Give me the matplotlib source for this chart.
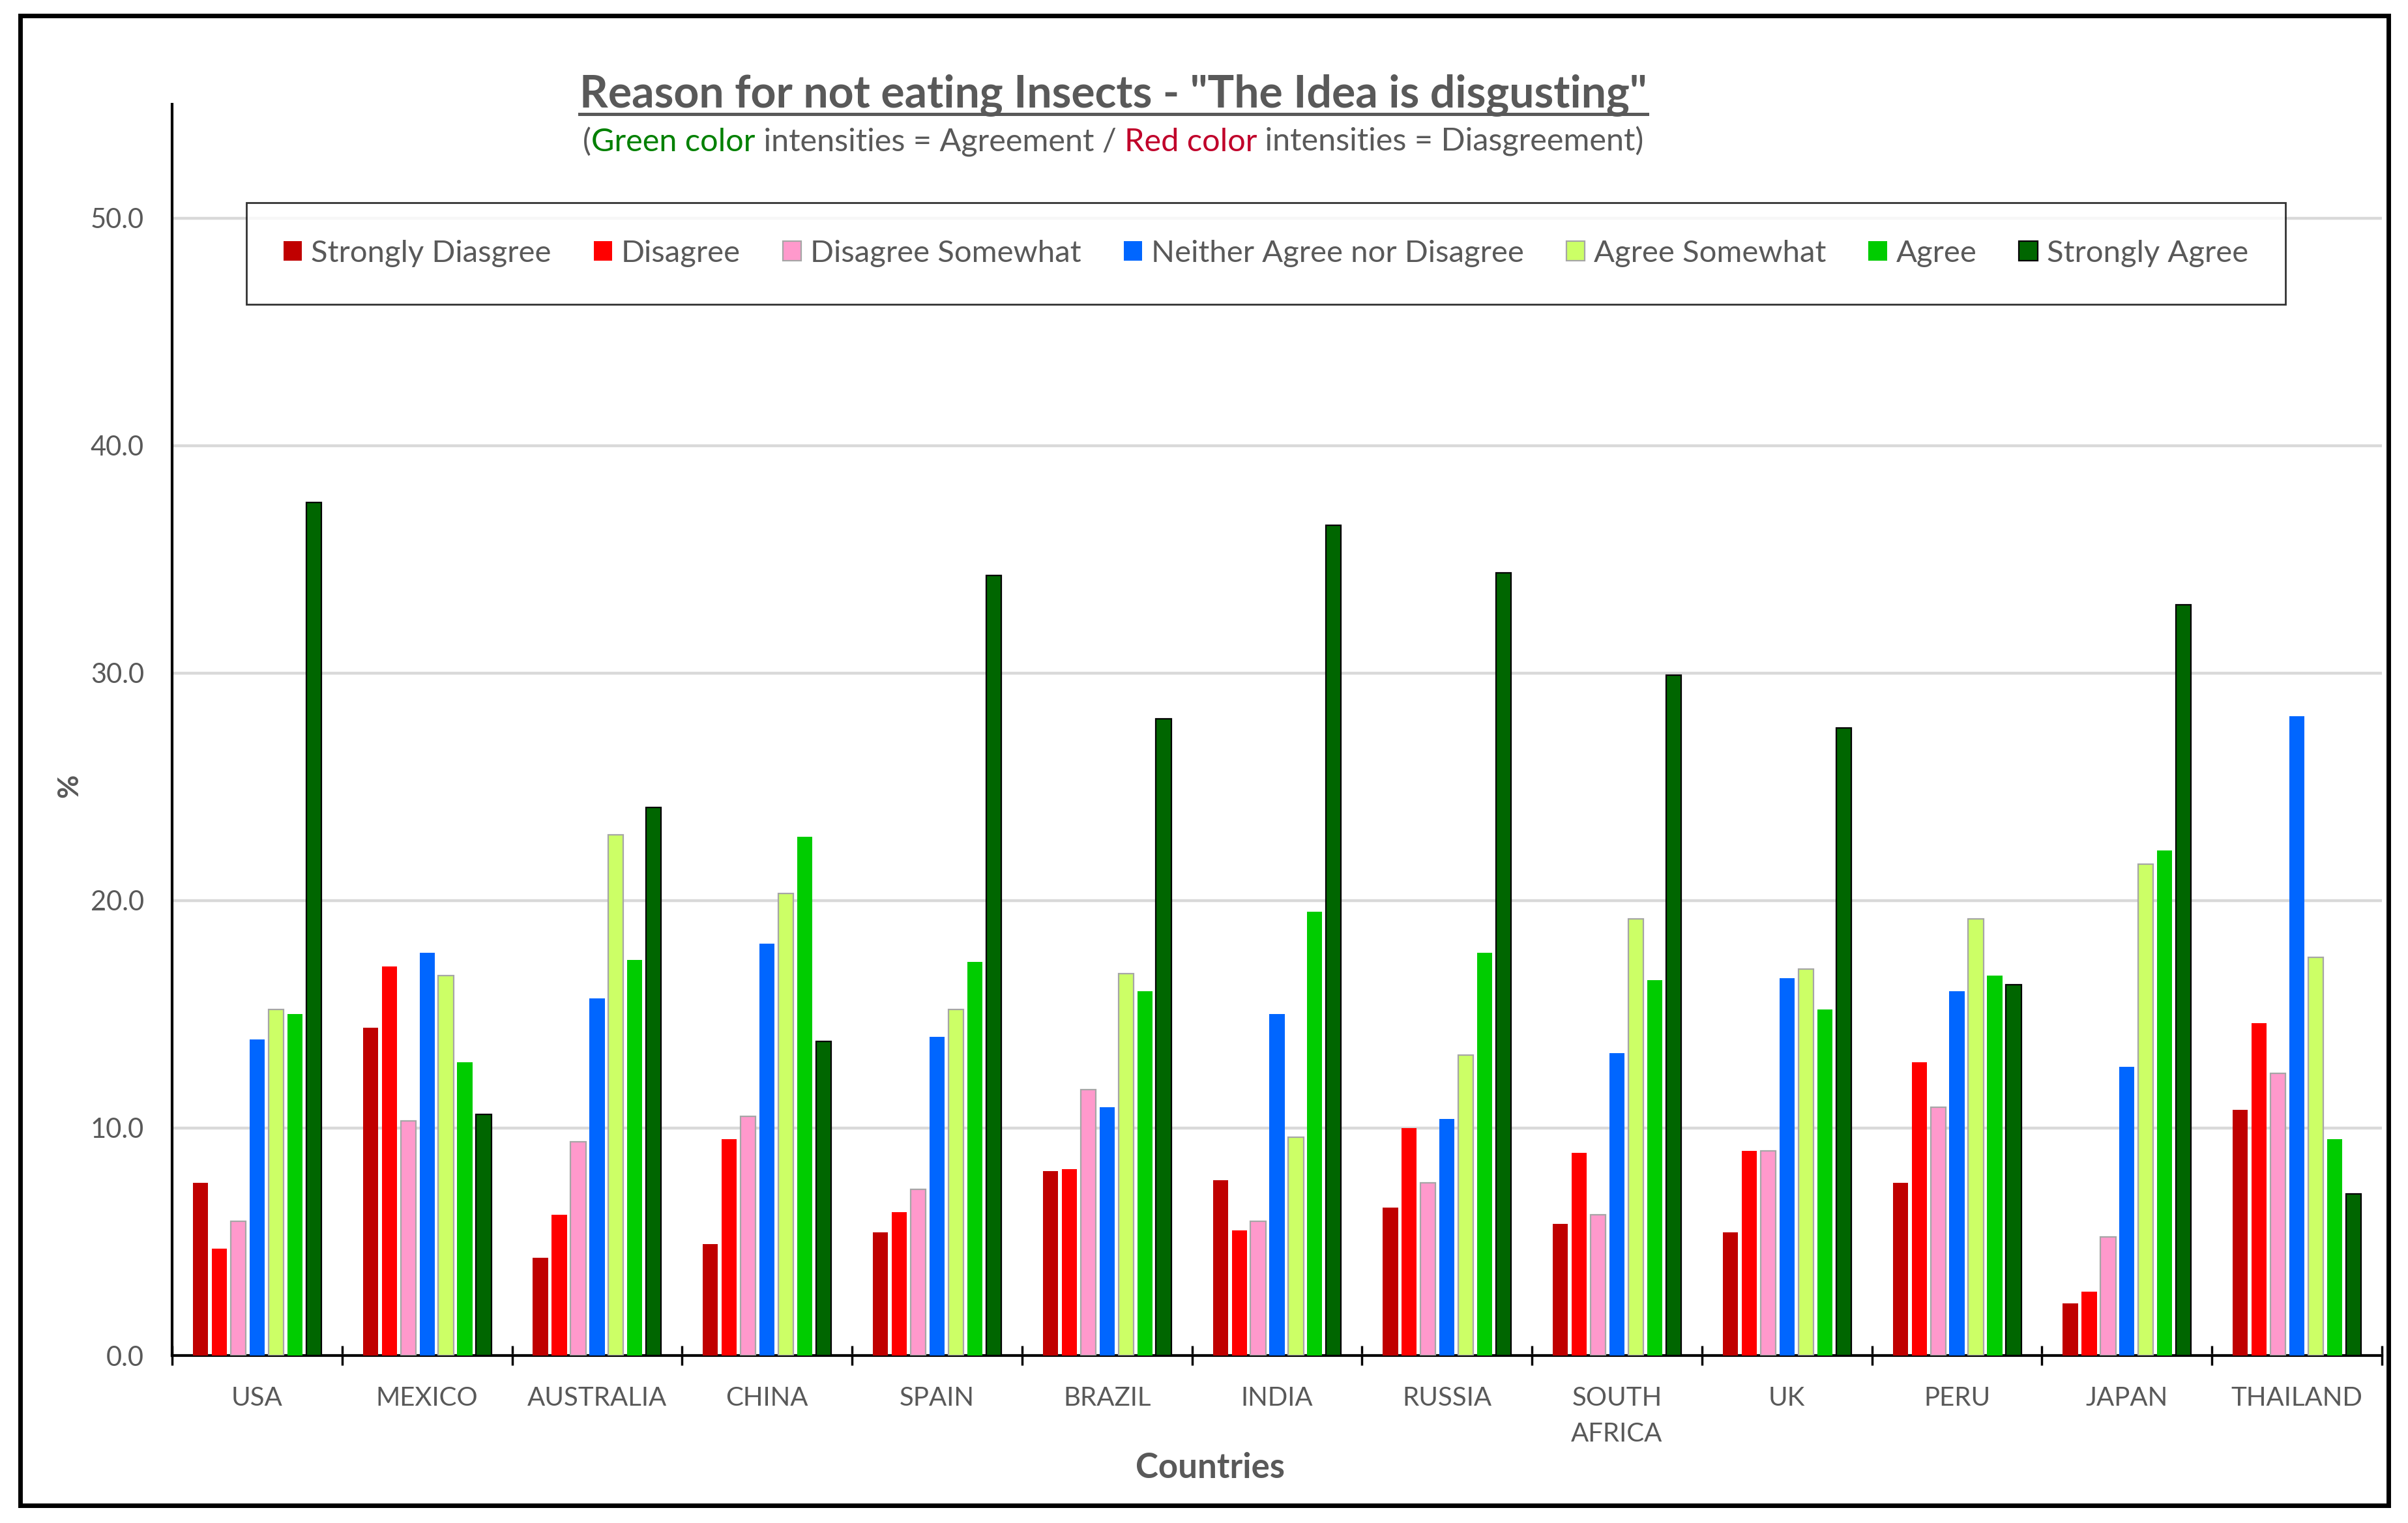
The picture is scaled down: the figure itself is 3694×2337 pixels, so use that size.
import numpy as np
import matplotlib.pyplot as plt
from matplotlib.patches import Rectangle, Patch
from matplotlib.lines import Line2D

plt.rcParams['font.family'] = ['Lato', 'DejaVu Sans']

# Data (% of respondents per answer)
countries = ["USA", "MEXICO", "AUSTRALIA", "CHINA", "SPAIN", "BRAZIL", "INDIA",
             "RUSSIA", "SOUTH\nAFRICA", "UK", "PERU", "JAPAN", "THAILAND"]
strongly_disagree = [7.6, 14.4, 4.3, 4.9, 5.4, 8.1, 7.7, 6.5, 5.8, 5.4, 7.6, 2.3, 10.8]
disagree = [4.7, 17.1, 6.2, 9.5, 6.3, 8.2, 5.5, 10.0, 8.9, 9.0, 12.9, 2.8, 14.6]
disagree_somewhat = [5.9, 10.3, 9.4, 10.5, 7.3, 11.7, 5.9, 7.6, 6.2, 9.0, 10.9, 5.2, 12.4]
neither = [13.9, 17.7, 15.7, 18.1, 14.0, 10.9, 15.0, 10.4, 13.3, 16.6, 16.0, 12.7, 28.1]
agree_somewhat = [15.2, 16.7, 22.9, 20.3, 15.2, 16.8, 9.6, 13.2, 19.2, 17.0, 19.2, 21.6, 17.5]
agree = [15.0, 12.9, 17.4, 22.8, 17.3, 16.0, 19.5, 17.7, 16.5, 15.2, 16.7, 22.2, 9.5]
strongly_agree = [37.5, 10.6, 24.1, 13.8, 34.3, 28.0, 36.5, 34.4, 29.9, 27.6, 16.3, 33.0, 7.1]

series_names = ["Strongly Diasgree", "Disagree", "Disagree Somewhat",
                "Neither Agree nor Disagree", "Agree Somewhat", "Agree", "Strongly Agree"]

GRAY = "#595959"
styles = [
    ("#C00000", "none", 0),
    ("#FF0000", "none", 0),
    ("#FF99CC", "#A6A6A6", 1.6),
    ("#0066FF", "none", 0),
    ("#CCFF66", "#A6A6A6", 1.6),
    ("#00CC00", "none", 0),
    ("#006600", "#000000", 1.6),
]
all_series = [strongly_disagree, disagree, disagree_somewhat, neither,
              agree_somewhat, agree, strongly_agree]

W, H = 3694, 2337
fig = plt.figure(figsize=(W / 100, H / 100), dpi=100)
ax = fig.add_axes([264 / W, 1 - 2080 / H, (3654 - 264) / W, (2080 - 160) / H])

x = np.arange(len(countries))
step, bw = 0.111, 0.089
for j, (vals, (fc, ec, lw)) in enumerate(zip(all_series, styles)):
    ax.bar(x + (j - 3) * step, vals, width=bw, color=fc, edgecolor=ec,
           linewidth=lw, zorder=3, label=series_names[j])

ax.set_xlim(-0.5, len(countries) - 0.5)
ax.set_ylim(0, 55)
ax.set_yticks(np.arange(0, 51, 10))
ax.set_yticklabels([f"{v:.1f}" for v in np.arange(0, 51, 10)])
ax.yaxis.grid(True, color="#D9D9D9", linewidth=3.2, zorder=0)
ax.set_axisbelow(True)

ax.set_xticks(np.arange(-0.5, len(countries), 1))
ax.set_xticklabels([])
ax.set_xticks(x, minor=True)
ax.set_xticklabels(countries, minor=True)
for lbl in ax.get_xticklabels(minor=True):
    lbl.set_linespacing(1.6)

ax.tick_params(axis="x", which="major", direction="inout", length=22, width=2.5, color="black")
ax.tick_params(axis="x", which="minor", length=0, pad=34, labelsize=29, labelcolor=GRAY)
ax.tick_params(axis="y", length=0, pad=31, labelsize=30, labelcolor=GRAY)

for s in ["top", "right"]:
    ax.spines[s].set_visible(False)
ax.spines["left"].set_linewidth(3)
ax.spines["bottom"].set_linewidth(3)

# legend
handles = [Patch(facecolor=fc, edgecolor=(ec if ec != "none" else fc), linewidth=lw)
           for fc, ec, lw in styles]
leg = fig.legend(handles, series_names, loc="center", bbox_to_anchor=(1942 / W, 1 - 389 / H),
                 ncol=7, fontsize=34, frameon=True, fancybox=False, edgecolor="black",
                 handlelength=0.6, handleheight=0.6, handletextpad=0.3,
                 columnspacing=1.37, borderpad=1.2, labelcolor=GRAY)
leg.get_frame().set_linewidth(2)

# title with underline
renderer = fig.canvas.get_renderer()
title = fig.text(1708 / W, 1 - 165 / H, 'Reason for not eating Insects - "The Idea is disgusting"',
                 ha="center", va="baseline", fontsize=49, fontweight="bold", color=GRAY)
bb = title.get_window_extent(renderer)
uy = 1 - 175 / H
fig.add_artist(Line2D([bb.x0 / W, bb.x1 / W], [uy, uy], color=GRAY, linewidth=3.6,
                      transform=fig.transFigure))

# multi-coloured subtitle
parts = [("(", GRAY), ("Green color", "#008000"), (" intensities = Agreement / ", GRAY),
         ("Red color", "#C0002A"), (" intensities = Diasgreement)", GRAY)]
sub_y = 1 - 232 / H
texts, widths = [], []
for s, c in parts:
    t = fig.text(0, sub_y, s, color=c, fontsize=35, va="baseline", ha="left")
    texts.append(t)
    widths.append(t.get_window_extent(renderer).width)
xpos = 1708 - sum(widths) / 2
for t, w in zip(texts, widths):
    t.set_x(xpos / W)
    xpos += w

fig.text(106 / W, 1 - 1206 / H, "%", rotation=90, ha="center", va="center",
         fontsize=32, fontweight="bold", color=GRAY)
fig.text(1857 / W, 1 - 2252 / H, "Countries", ha="center", va="center",
         fontsize=38, fontweight="bold", color=GRAY)

# outer frame
fig.add_artist(Rectangle((31 / W, 1 - 2310 / H), (3664 - 31) / W, (2310 - 24) / H,
                         transform=fig.transFigure, fill=False, edgecolor="black", linewidth=5))

fig.savefig("out.png", dpi=100)
